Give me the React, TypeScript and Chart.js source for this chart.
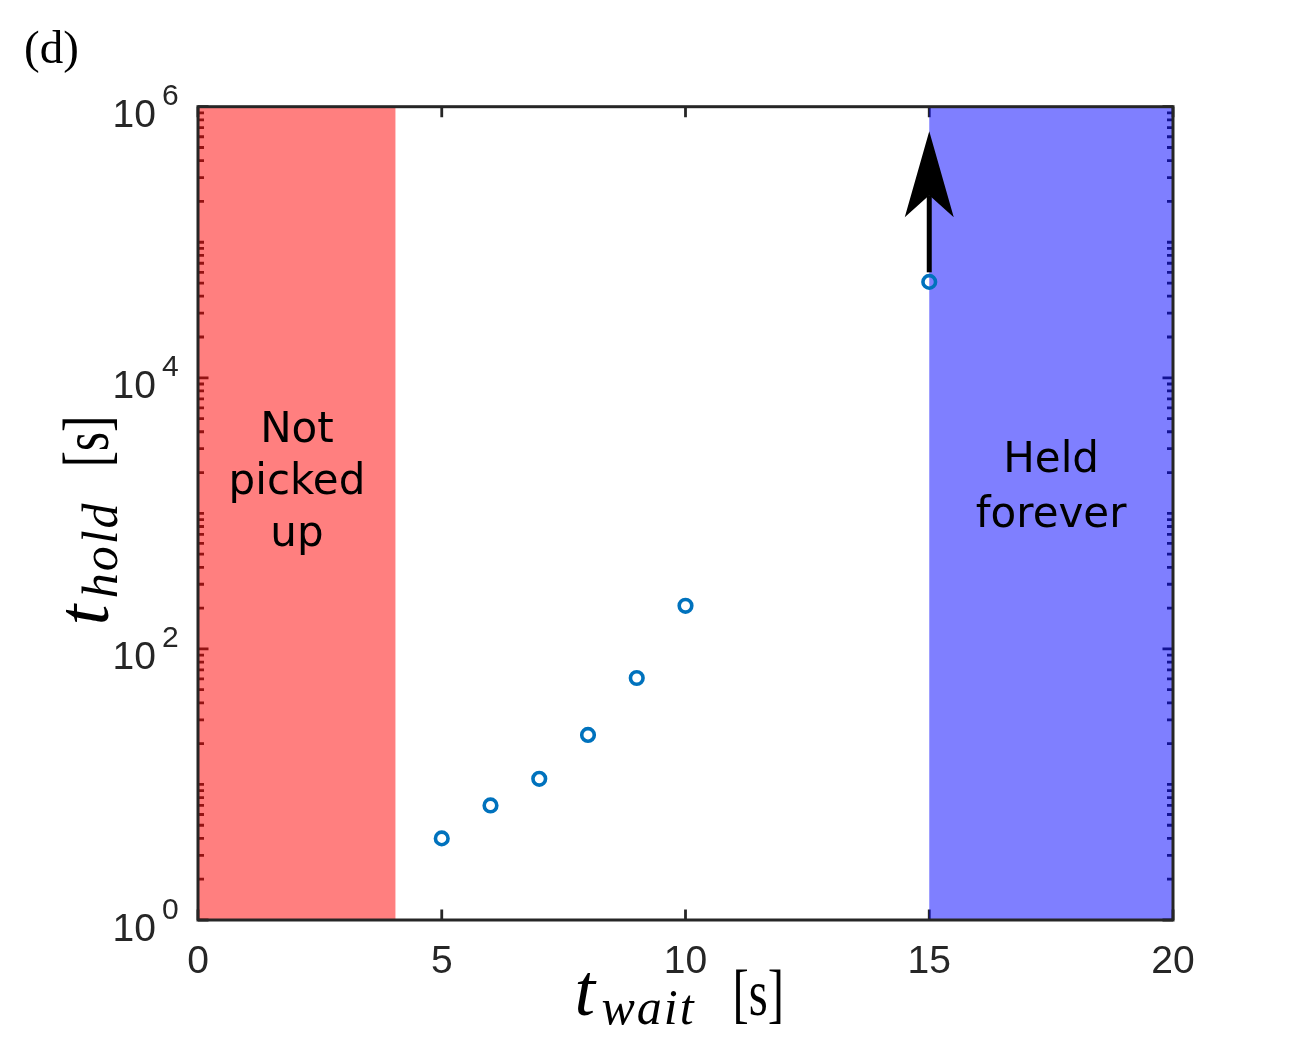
import { useEffect, useRef } from "react";
import { Chart, registerables } from "chart.js";

Chart.register(...registerables);

// ---- data ----
const waitTimes = [5, 6, 7, 8, 9, 10, 15];
const holdTimes = [4.0, 7.0, 11.0, 23.2, 61, 208, 51000];
const xTickValues = [0, 5, 10, 15, 20];
const xTickLabels = ["0", "5", "10", "15", "20"];
const yTickExponents = [0, 2, 4, 6];
const notPickedRange = [0, 4.05];
const heldForeverRange = [15, 20];
const notPickedLines = ["Not", "picked", "up"];
const heldForeverLines = ["Held", "forever"];
const notPickedAnchor = [2.03, 1390];
const heldForeverAnchor = [17.5, 1265];
const arrowStart = [15, 60000];
const arrowEnd = [15, 660000];
const panelLabel = "(d)";

const AXIS = "#262626";

function drawAxisTitle(ctx: CanvasRenderingContext2D, sub: string, cx: number, base: number) {
  ctx.textAlign = "left";
  ctx.textBaseline = "alphabetic";
  ctx.fillStyle = "#000";
  ctx.font = "italic 74px 'Liberation Serif'";
  ctx.fillText("t", cx - 103, base);
  ctx.font = "italic 50px 'Liberation Serif'";
  (ctx as any).letterSpacing = "2px";
  ctx.fillText(sub, cx - 76, base + 9);
  (ctx as any).letterSpacing = "0px";
  ctx.save();
  ctx.translate(cx + 55, base);
  ctx.scale(0.74, 1);
  ctx.font = "66px 'Liberation Serif'";
  ctx.fillText("[s]", 0, 0);
  ctx.restore();
}

const overlay = {
  id: "overlay",
  beforeDatasetsDraw(chart: any) {
    const { ctx, chartArea: a, scales } = chart;
    const xs = scales.x;
    const ys = scales.y;
    ctx.save();
    // ticks
    ctx.strokeStyle = AXIS;
    ctx.lineWidth = 2.8;
    ctx.beginPath();
    for (let k = 0; k <= 6; k++) {
      for (let m = 1; m <= 9; m++) {
        if (k === 6 && m > 1) break;
        const v = m * Math.pow(10, k);
        const major = m === 1 && yTickExponents.includes(k);
        const py = ys.getPixelForValue(v);
        const len = major ? 10.5 : 6;
        ctx.moveTo(a.left, py);
        ctx.lineTo(a.left + len, py);
        ctx.moveTo(a.right, py);
        ctx.lineTo(a.right - len, py);
      }
    }
    xTickValues.forEach((v) => {
      const px = xs.getPixelForValue(v);
      ctx.moveTo(px, a.bottom);
      ctx.lineTo(px, a.bottom - 10.5);
      ctx.moveTo(px, a.top);
      ctx.lineTo(px, a.top + 10.5);
    });
    ctx.stroke();

    // shaded regions
    const top = ys.getPixelForValue(1e6);
    const bot = ys.getPixelForValue(1);
    ctx.fillStyle = "rgba(255,0,0,0.5)";
    let x0 = xs.getPixelForValue(notPickedRange[0]);
    let x1 = xs.getPixelForValue(notPickedRange[1]);
    ctx.fillRect(x0, top, x1 - x0, bot - top);
    ctx.fillStyle = "rgba(0,0,255,0.5)";
    x0 = xs.getPixelForValue(heldForeverRange[0]);
    x1 = xs.getPixelForValue(heldForeverRange[1]);
    ctx.fillRect(x0, top, x1 - x0, bot - top);

    // box
    ctx.strokeStyle = AXIS;
    ctx.lineWidth = 3;
    ctx.strokeRect(a.left, a.top, a.right - a.left, a.bottom - a.top);

    // region labels
    ctx.fillStyle = "#000";
    ctx.font = "42px 'DejaVu Sans'";
    ctx.textAlign = "center";
    ctx.textBaseline = "alphabetic";
    const drawBlock = (lines: string[], anchor: number[], lh: number) => {
      const cx = xs.getPixelForValue(anchor[0]);
      const cy = ys.getPixelForValue(anchor[1]);
      lines.forEach((ln, i) => {
        ctx.fillText(ln, cx, cy + (i - (lines.length - 1) / 2) * lh);
      });
    };
    drawBlock(notPickedLines, notPickedAnchor, 52);
    drawBlock(heldForeverLines, heldForeverAnchor, 55);

    // arrow
    const ax = xs.getPixelForValue(arrowStart[0]);
    const ay0 = ys.getPixelForValue(arrowStart[1]);
    const ay1 = ys.getPixelForValue(arrowEnd[1]);
    const headLen = 86;
    const notch = 64;
    const halfW = 24.5;
    ctx.strokeStyle = "#000";
    ctx.lineWidth = 5;
    ctx.beginPath();
    ctx.moveTo(ax, ay0);
    ctx.lineTo(ax, ay1 + notch);
    ctx.stroke();
    ctx.fillStyle = "#000";
    ctx.beginPath();
    ctx.moveTo(ax, ay1);
    ctx.lineTo(ax + halfW, ay1 + headLen);
    ctx.lineTo(ax, ay1 + notch);
    ctx.lineTo(ax - halfW, ay1 + headLen);
    ctx.closePath();
    ctx.fill();
    ctx.restore();
  },
  afterDraw(chart: any) {
    const { ctx, chartArea: a, scales } = chart;
    const xs = scales.x;
    const ys = scales.y;
    ctx.save();
    ctx.fillStyle = AXIS;
    ctx.textBaseline = "alphabetic";
    // x tick labels
    ctx.font = "39px 'Liberation Sans'";
    ctx.textAlign = "center";
    xTickValues.forEach((v, i) => {
      ctx.fillText(xTickLabels[i], xs.getPixelForValue(v), a.bottom + 53);
    });
    // y tick labels
    yTickExponents.forEach((e) => {
      const py = ys.getPixelForValue(Math.pow(10, e));
      ctx.font = "39px 'Liberation Sans'";
      ctx.textAlign = "right";
      ctx.fillText("10", a.left - 42, py + 20.5);
      ctx.font = "30px 'Liberation Sans'";
      ctx.textAlign = "left";
      ctx.fillText(String(e), a.left - 36, py - 1.5);
    });
    // axis titles
    const cxArea = (a.left + a.right) / 2;
    const cyArea = (a.top + a.bottom) / 2;
    drawAxisTitle(ctx, "wait", cxArea - 8, a.bottom + 95);
    ctx.save();
    ctx.translate(a.left - 90, cyArea + 9);
    ctx.rotate(-Math.PI / 2);
    drawAxisTitle(ctx, "hold", 0, 0);
    ctx.restore();
    // panel label
    ctx.fillStyle = "#000";
    ctx.font = "47px 'Liberation Serif'";
    ctx.textAlign = "left";
    ctx.fillText(panelLabel, 24, 63);
    ctx.restore();
  },
};

export default function App() {
  const ref = useRef<HTMLCanvasElement | null>(null);
  useEffect(() => {
    document.body.style.margin = "0";
    const canvas = ref.current;
    if (!canvas) return;
    const chart = new Chart(canvas, {
      type: "scatter",
      data: {
        datasets: [
          {
            data: waitTimes.map((x, i) => ({ x, y: holdTimes[i] })),
            pointRadius: 6.3,
            pointHoverRadius: 6.3,
            borderWidth: 3.6,
            borderColor: "#0072BD",
            backgroundColor: "rgba(0,0,0,0)",
            showLine: false,
          },
        ],
      },
      options: {
        animation: false,
        responsive: false,
        devicePixelRatio: 1,
        events: [],
        layout: { padding: { left: 198, top: 106.7, right: 121, bottom: 124 } },
        plugins: { legend: { display: false }, tooltip: { enabled: false } },
        scales: {
          x: { type: "linear", min: 0, max: 20, display: false },
          y: { type: "logarithmic", min: 1, max: 1e6, display: false },
        },
      },
      plugins: [overlay],
    });
    return () => chart.destroy();
  }, []);
  return (
    <div style={{ position: "absolute", left: 0, top: 0, width: 1294, height: 1044, background: "#fff" }}>
      <canvas ref={ref} width={1294} height={1044} />
    </div>
  );
}
